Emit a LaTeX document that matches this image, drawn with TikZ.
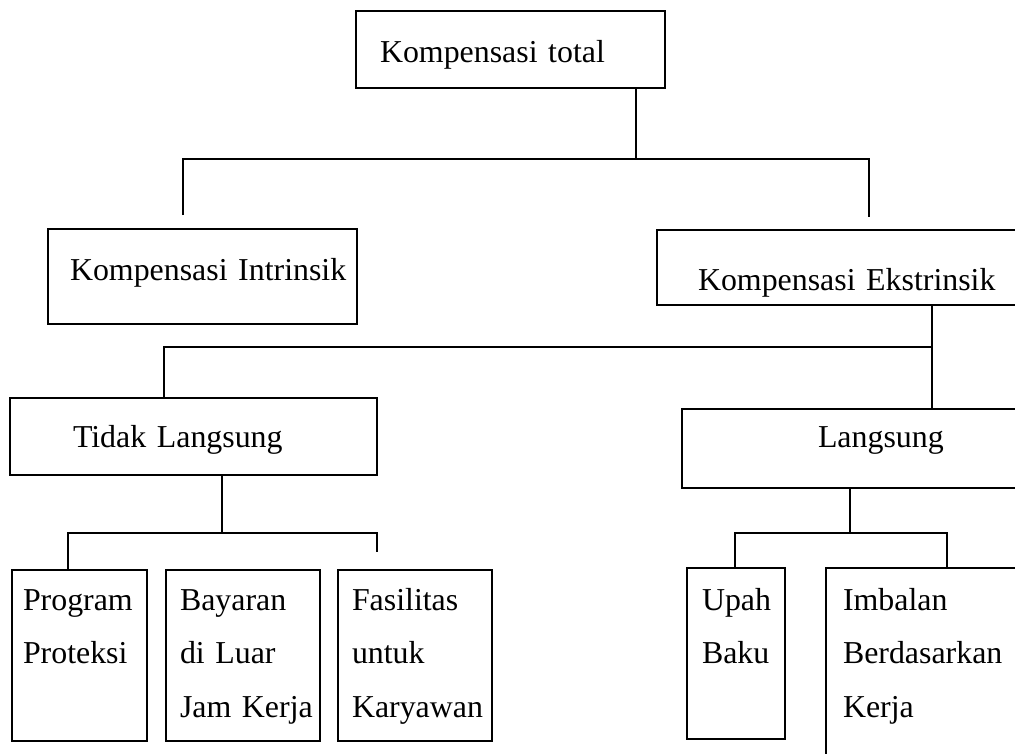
\documentclass[tikz,border=0pt]{standalone}
\usepackage{fontspec}
\setmainfont{Liberation Serif}
\usetikzlibrary{calc}
\hyphenpenalty=10000

\begin{document}
\begin{tikzpicture}[x=1bp, y=-1bp, line width=2.2bp,
    box/.style={rectangle, draw, anchor=north west, align=left, outer sep=0pt,
      inner ysep=0pt, font=\fontsize{32}{54}\selectfont}]
      \clip (0, 0) rectangle (1015, 754);
      \node [box, text width=261bp, inner xsep=24bp, text height=51bp, text depth=26bp] (total) at (356, 11) {Kompensasi~total};
      \node [box, text width=265bp, inner xsep=22bp, text height=51bp, text depth=44bp] (intrinsik) at (48, 229) {Kompensasi~Intrinsik};
      \node [box, text width=288bp, inner xsep=41bp, text height=60bp, text depth=15bp] (ekstrinsik) at (657, 230) {Kompensasi~Ekstrinsik};
      \node [box, text width=241bp, inner xsep=63bp, text height=49bp, text depth=28bp] (tidak) at (10, 398) {Tidak~Langsung};
      \node [box, text width=78bp, inner xsep=136bp, text height=38bp, text depth=41bp] (langsung) at (682, 409) {Langsung};
      \node [box, text width=113bp, inner xsep=11bp, text height=40bp, text depth=131bp] (proteksi) at (12, 570) {Program\\Proteksi};
      \node [box, text width=126bp, inner xsep=14bp, text height=40bp, text depth=131bp] (bayaran) at (166, 570) {Bayaran\\di~Luar\\Jam~Kerja};
      \node [box, text width=126bp, inner xsep=14bp, text height=40bp, text depth=131bp] (fasilitas) at (338, 570) {Fasilitas\\untuk\\Karyawan};
      \node [box, text width=68bp, inner xsep=15bp, text height=42bp, text depth=129bp] (upah) at (687, 568) {Upah\\Baku};
      \node [box, text width=176bp, inner xsep=17bp, text height=42bp, text depth=158bp] (imbalan) at (826, 568) {Imbalan\\Berdasarkan\\Kerja};
      % branch points
      \coordinate (totalj) at (636, 159);
      \coordinate (intrinsikj) at (183, 215);
      \coordinate (ekstrinsikj) at (869, 217);
      \coordinate (splitj) at (932, 347);
      \coordinate (tidakj) at (164, 347);
      \coordinate (tidakmid) at (222, 533);
      \coordinate (proteksij) at (68, 533);
      \coordinate (fasilitasj) at (377, 552);
      \coordinate (langsungmid) at (850, 533);
      \coordinate (upahj) at (735, 533);
      \coordinate (imbalanj) at (947, 533);
      % connectors
      \draw (total.south -| totalj) -- (totalj);
      \draw (intrinsikj) -- (intrinsikj |- totalj) -- (ekstrinsikj |- totalj) -- (ekstrinsikj);
      \draw (ekstrinsik.south -| splitj) -- (langsung.north -| splitj);
      \draw (splitj) -- (tidakj) -- (tidak.north -| tidakj);
      \draw (tidak.south -| tidakmid) -- (tidakmid);
      \draw (proteksi.north -| proteksij) -- (proteksij) -- (fasilitasj |- proteksij) -- (fasilitasj);
      \draw (langsung.south -| langsungmid) -- (langsungmid);
      \draw (upah.north -| upahj) -- (upahj) -- (imbalanj) -- (imbalan.north -| imbalanj);
\end{tikzpicture}
\end{document}
